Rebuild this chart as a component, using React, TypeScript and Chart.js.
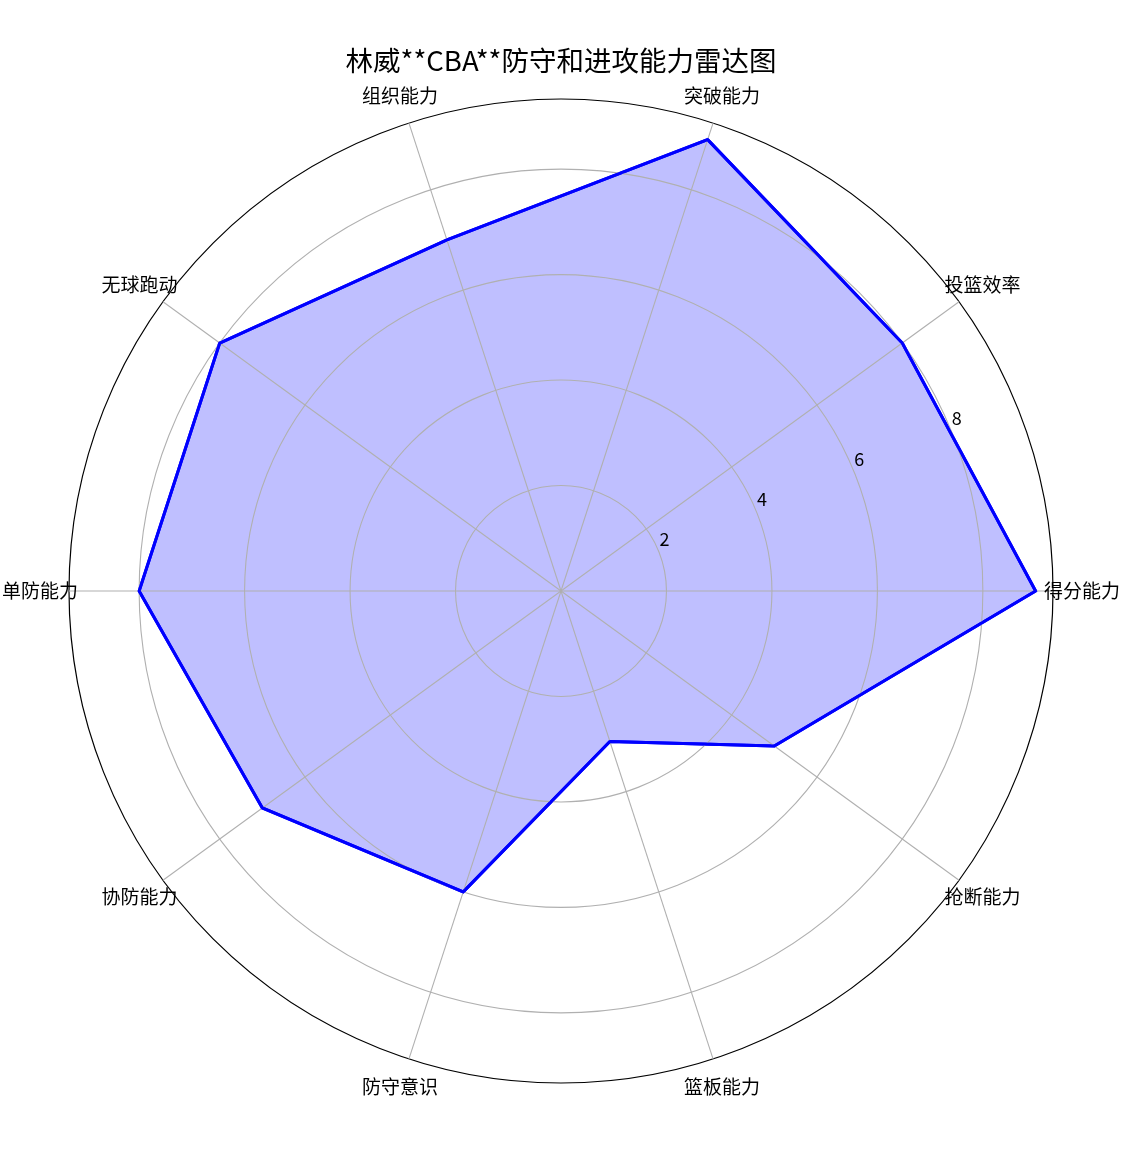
import React, { useEffect, useRef } from "react";
import { Chart, registerables } from "chart.js";

Chart.register(...registerables);

const TITLE = "林威**CBA**防守和进攻能力雷达图";
// categories in the reference order: counter-clockwise starting from the right (0°)
const categories = ["得分能力", "投篮效率", "突破能力", "组织能力", "无球跑动", "单防能力", "协防能力", "防守意识", "篮板能力", "抢断能力"];
const values = [9, 8, 9, 7, 8, 8, 7, 6, 3, 5];
const rTickLabels = [2, 4, 6, 8];
const R_MAX = 9.33;

const FONT = '"Noto Sans CJK SC", "Noto Sans", sans-serif';

// Chart.js goes clockwise, so keep index 0 and reverse the rest
const order = [0, ...categories.map((_, i) => i).slice(1).reverse()];
const cjLabels = order.map((i) => categories[i]);
const cjValues = order.map((i) => values[i]);

const overlay = {
  id: "overlay",
  afterDraw(chart: any) {
    const ctx = chart.ctx;
    const scale = chart.scales.r;
    const meta = chart.getDatasetMeta(0);
    ctx.save();
    // data line above the grid
    ctx.beginPath();
    meta.data.forEach((p: any, i: number) => (i ? ctx.lineTo(p.x, p.y) : ctx.moveTo(p.x, p.y)));
    ctx.closePath();
    ctx.strokeStyle = "#0000ff";
    ctx.lineWidth = 3;
    ctx.lineJoin = "round";
    ctx.stroke();

    ctx.fillStyle = "#000";
    ctx.textAlign = "center";
    ctx.textBaseline = "middle";
    // radial tick labels at 22.5°
    ctx.font = "18px " + FONT;
    const a = (22.5 * Math.PI) / 180;
    rTickLabels.forEach((v) => {
      const d = scale.getDistanceFromCenterForValue(v);
      ctx.fillText(String(v), scale.xCenter + d * Math.cos(a) + 6, scale.yCenter - d * Math.sin(a) - 11);
    });
    // category labels
    ctx.font = "19px " + FONT;
    chart.data.labels.forEach((lab: string, i: number) => {
      const p = scale.getPointPosition(i, scale.drawingArea + 29);
      ctx.fillText(lab, p.x, p.y);
    });
    // title
    ctx.font = "27.5px " + FONT;
    ctx.fillText(TITLE, scale.xCenter, 61);
    ctx.restore();
  },
};

export default function App() {
  const ref = useRef<HTMLCanvasElement | null>(null);
  useEffect(() => {
    if (!ref.current) return;
    const chart = new Chart(ref.current, {
      type: "radar",
      data: {
        labels: cjLabels,
        datasets: [
          {
            data: cjValues,
            fill: true,
            backgroundColor: "rgba(0,0,255,0.25)",
            borderColor: "#0000ff",
            borderWidth: 3,
            pointRadius: 0,
            pointHoverRadius: 0,
            tension: 0,
          },
        ],
      },
      options: {
        animation: false,
        responsive: false,
        layout: { padding: { left: 69, top: 99, right: 87, bottom: 67 } },
        plugins: { legend: { display: false }, title: { display: false }, tooltip: { enabled: false } },
        scales: {
          r: {
            startAngle: 90,
            min: 0,
            max: R_MAX,
            afterBuildTicks: (scale: any) => {
              scale.ticks = [0, ...rTickLabels, R_MAX].map((v) => ({ value: v }));
            },
            ticks: { display: false, z: 1 },
            pointLabels: { display: false },
            grid: {
              circular: true,
              z: 1,
              color: (c: any) => (c.tick && c.tick.value >= R_MAX - 1e-6 ? "#000000" : "#b0b0b0"),
              lineWidth: (c: any) => (c.tick && c.tick.value >= R_MAX - 1e-6 ? 1.2 : 1.1),
            },
            angleLines: { display: true, color: "#b0b0b0", lineWidth: 1.1 },
          },
        },
      },
      plugins: [overlay],
    } as any);
    return () => chart.destroy();
  }, []);
  return (
    <canvas
      ref={ref}
      width={1140}
      height={1150}
      style={{ position: "absolute", left: 0, top: 0, width: 1140, height: 1150 }}
    />
  );
}
